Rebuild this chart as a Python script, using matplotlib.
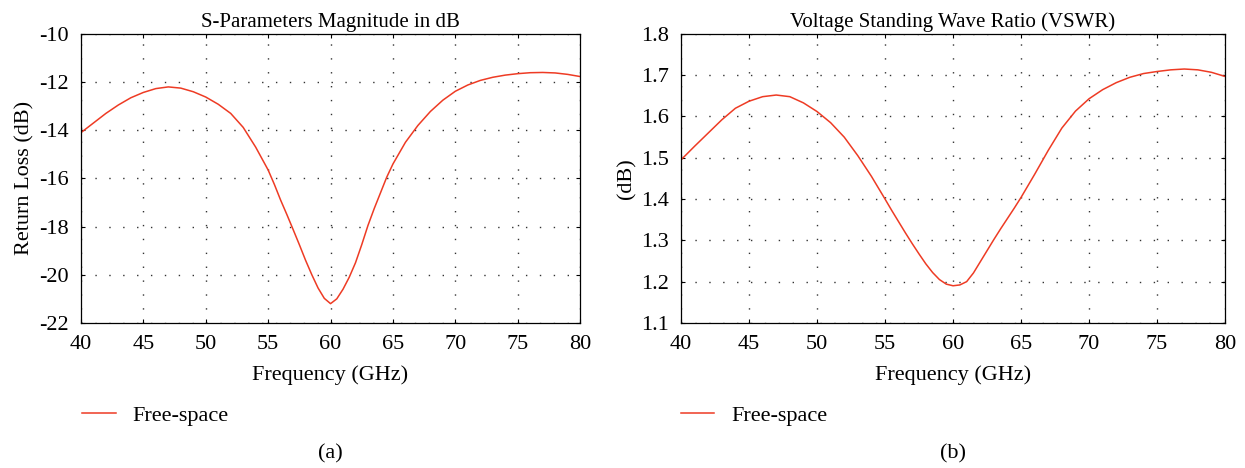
import matplotlib.pyplot as plt

plt.rcParams['font.family'] = ['Liberation Serif', 'DejaVu Serif']
plt.rcParams['axes.unicode_minus'] = False

freq = [40, 41, 42, 43, 44, 45, 46, 47, 48, 49, 50, 51, 52, 53, 54,
        55, 55.5, 56, 56.5, 57, 57.5, 58, 58.5, 59, 59.5, 60, 60.5, 61, 61.5, 62, 62.5,
        63, 63.5, 64, 64.5, 65, 65.5, 66,
        67, 68, 69, 70, 71, 72, 73, 74, 75, 76, 77, 78, 79, 80]

return_loss = [-14.1, -13.7, -13.3, -12.95, -12.65, -12.43, -12.27, -12.2, -12.25, -12.4, -12.62,
               -12.92, -13.3, -13.88, -14.7,
               -15.65, -16.25, -16.9, -17.5, -18.12, -18.75, -19.4, -20.0, -20.55, -20.98, -21.2,
               -21.0, -20.6, -20.1, -19.5, -18.75, -17.95, -17.25, -16.6, -15.95, -15.4, -14.95, -14.5,
               -13.8, -13.22, -12.75, -12.38,
               -12.12, -11.93, -11.8, -11.71, -11.65, -11.61, -11.6, -11.62, -11.68, -11.77]

vswr = [1.495, 1.528, 1.56, 1.592, 1.62, 1.637, 1.648, 1.652, 1.648, 1.633, 1.612,
        1.585, 1.55, 1.505, 1.455,
        1.40, 1.372, 1.345, 1.318, 1.292, 1.267, 1.243, 1.222, 1.205, 1.194, 1.19,
        1.192, 1.20, 1.221, 1.248, 1.275, 1.302, 1.328, 1.353, 1.378, 1.404, 1.432, 1.46,
        1.518, 1.572, 1.613, 1.643,
        1.665, 1.682, 1.695, 1.704, 1.709, 1.713, 1.715, 1.713, 1.707, 1.697]

line_color = '#EE3B24'

fig = plt.figure(figsize=(12.45, 4.68), dpi=100)
ax1 = fig.add_axes([0.065, 0.310, 0.401, 0.6175])
ax2 = fig.add_axes([0.547, 0.310, 0.437, 0.6175])

panels = [
    (ax1, return_loss, 'S-Parameters Magnitude in dB', 'Return Loss (dB)', (-22, -10), range(-22, -9, 2), '(a)'),
    (ax2, vswr, 'Voltage Standing Wave Ratio (VSWR)', '(dB)', (1.1, 1.8), [1.1, 1.2, 1.3, 1.4, 1.5, 1.6, 1.7, 1.8], '(b)'),
]

for ax, values, title, ylabel, ylim, yticks, tag in panels:
    ln, = ax.plot(freq, values, color=line_color, lw=1.1, label='Free-space')
    ax.set_xlim(40, 80)
    ax.set_ylim(*ylim)
    ax.set_xticks(range(40, 81, 5))
    ax.set_yticks(list(yticks))
    if ax is ax2:
        ax.set_yticklabels(['%.1f' % v for v in yticks])
    ax.set_title(title, fontsize=15, pad=5)
    ax.set_xlabel('Frequency (GHz)', fontsize=16, labelpad=8)
    ax.set_ylabel(ylabel, fontsize=16, labelpad=3)
    ax.tick_params(direction='in', length=3, width=0.8, top=True, right=True,
                   labelsize=16, pad=9)
    ax.grid(True, color='#333333', linestyle=(0, (1, 9)), linewidth=1.0)
    for s in ax.spines.values():
        s.set_linewidth(0.9)
    bb = ax.get_position()
    ax.legend(handles=[ln], loc='center left', bbox_to_anchor=(-0.037, -0.32),
              frameon=False, fontsize=16, handlelength=1.5, handletextpad=0.75)
    fig.text(bb.x0 + bb.width / 2, 0.01, tag, ha='center', va='bottom', fontsize=16)

fig.savefig('out.png', dpi=100)
